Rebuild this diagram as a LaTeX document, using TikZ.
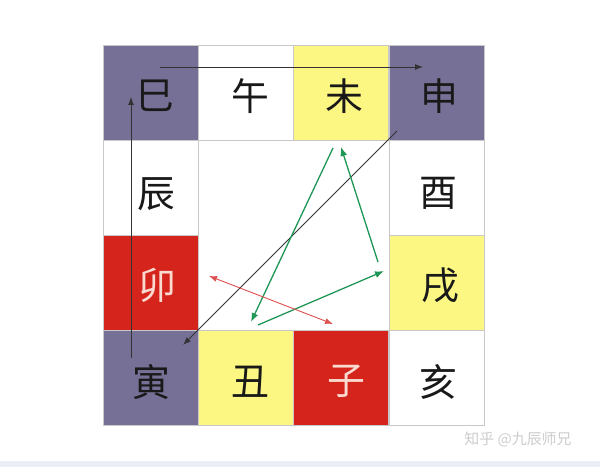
\documentclass[tikz,border=0pt]{standalone}
\usepackage{fontspec}
\newfontfamily\cjk{Noto Sans CJK SC}
\usetikzlibrary{arrows.meta}
\definecolor{purp}{RGB}{118,112,150}
\definecolor{yel}{RGB}{252,247,130}
\definecolor{redc}{RGB}{212,36,28}
\definecolor{gridc}{RGB}{200,200,200}
\definecolor{grn}{RGB}{30,150,85}
\definecolor{pinkr}{RGB}{222,80,80}
\definecolor{pinktext}{RGB}{250,218,208}
\definecolor{wmc}{RGB}{205,205,205}
\definecolor{bandc}{RGB}{234,239,246}
\begin{document}
\begin{tikzpicture}[x=1bp,y=-1bp,
  cell/.style={draw=gridc, line width=0.6bp, minimum width=95bp, minimum height=95bp, inner sep=0pt, anchor=north west},
  glyph/.style={font=\cjk\fontsize{38}{38}\selectfont, inner sep=0pt, text=black!90},
  blk/.style={draw=black!80, line width=0.9bp, -{Latex[length=8bp,width=6bp]}},
  grarrow/.style={draw=grn, line width=1.3bp, -{Latex[length=9bp,width=7bp]}},
  rdarrow/.style={draw=pinkr, line width=0.9bp, {Latex[length=8bp,width=6bp]}-{Latex[length=8bp,width=6bp]}}
]
\useasboundingbox (0,0) rectangle (600,467);
\fill[white] (0,0) rectangle (600,467);
\fill[bandc] (0,461) rectangle (600,467);
% cells
\node[cell, fill=purp] (c11) at (103,45) {};
\node[cell, fill=white] (c12) at (198.2,45) {};
\node[cell, fill=yel] (c13) at (293.4,45) {};
\node[cell, fill=purp] (c14) at (388.6,45) {};
\node[cell, fill=white] (c21) at (103,140) {};
\node[cell, fill=white] (c24) at (388.6,140) {};
\node[cell, fill=redc] (c31) at (103,235) {};
\node[cell, fill=yel] (c34) at (388.6,235) {};
\node[cell, fill=purp] (c41) at (103,330) {};
\node[cell, fill=yel] (c42) at (198.2,330) {};
\node[cell, fill=redc] (c43) at (293.4,330) {};
\node[cell, fill=white] (c44) at (388.6,330) {};
% glyphs
\node[glyph] (t11) at ([xshift=5bp,yshift=-3bp]c11.center) {巳};
\node[glyph] (t12) at ([xshift=4bp,yshift=-3bp]c12.center) {午};
\node[glyph] (t13) at ([xshift=3bp,yshift=-3bp]c13.center) {未};
\node[glyph] (t14) at ([xshift=3bp,yshift=-3bp]c14.center) {申};
\node[glyph] (t21) at ([xshift=6bp,yshift=-6bp]c21.center) {辰};
\node[glyph] (t24) at ([xshift=2bp,yshift=-6bp]c24.center) {酉};
\node[glyph, text=pinktext] (t31) at ([xshift=7bp,yshift=-3bp]c31.center) {卯};
\node[glyph] (t34) at ([xshift=4bp,yshift=-3bp]c34.center) {戌};
\node[glyph] (t41) at ([xshift=1bp,yshift=-4bp]c41.center) {寅};
\node[glyph] (t42) at ([xshift=4bp,yshift=-4bp]c42.center) {丑};
\node[glyph, text=pinktext] (t43) at ([xshift=5bp,yshift=-4bp]c43.center) {子};
\node[glyph] (t44) at ([xshift=2bp,yshift=-4bp]c44.center) {亥};
% arrow end points
\coordinate (h1) at (160,67);
\coordinate (h2) at (423,67);
\coordinate (v1) at (131,358);
\coordinate (v2) at (131,97);
\coordinate (d1) at (397,131);
\coordinate (d2) at (183,345);
\coordinate (ga1) at (333,148);
\coordinate (ga2) at (251,322);
\coordinate (gb1) at (378,262);
\coordinate (gb2) at (341,147);
\coordinate (gc1) at (258,325);
\coordinate (gc2) at (384,271);
\coordinate (r1) at (209,276);
\coordinate (r2) at (333,324);
% arrows
\draw[blk] (h1) -- (h2);
\draw[blk] (v1) -- (v2);
\draw[blk] (d1) -- (d2);
\draw[grarrow] (ga1) -- (ga2);
\draw[grarrow] (gb1) -- (gb2);
\draw[grarrow] (gc1) -- (gc2);
\draw[rdarrow] (r1) -- (r2);
% watermark
\node[text=wmc, font=\cjk\fontsize{15}{15}\selectfont, inner sep=0pt] (wm) at (518,440) {知乎 @九辰师兄};
\end{tikzpicture}
\end{document}
